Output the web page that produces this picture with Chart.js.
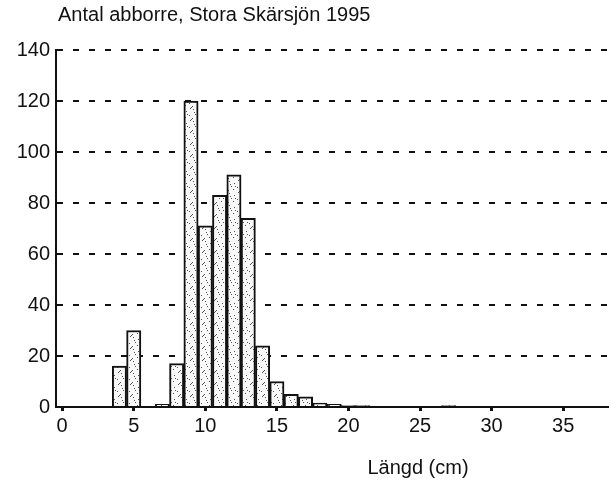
<!DOCTYPE html>
<html>
<head>
<meta charset="utf-8">
<script src="https://cdn.jsdelivr.net/npm/chart.js@4/dist/chart.umd.min.js"></script>
<style>
  html, body { margin: 0; padding: 0; background: #fff; }
  #wrap { width: 609px; height: 481px; position: relative; }
</style>
</head>
<body>
<div id="wrap"><canvas id="perch-chart"></canvas></div>
<script>
// Längd (cm), bins centred on whole centimetres
const lengths = [4, 5, 7, 8, 9, 10, 11, 12, 13, 14, 15, 16, 17, 18, 19, 20, 21, 27];
// Antal abborre per bin
const counts = [16, 30, 1, 17, 120, 71, 83, 91, 74, 24, 10, 5, 4, 1.5, 1, 0.6, 0.6, 0.6];
const xTicks = [0, 5, 10, 15, 20, 25, 30, 35];
const yTicks = [0, 20, 40, 60, 80, 100, 120, 140];

const chartTitle = 'Antal abborre, Stora Skärsjön 1995';
const xTitle = 'Längd (cm)';
const FONT = '"Liberation Sans", Arial, sans-serif';

// scanned-looking stipple fill for the bars
function stipple() {
    const c = document.createElement('canvas');
    c.width = 12;
    c.height = 12;
    const g = c.getContext('2d');
    g.fillStyle = '#f8f8f8';
    g.fillRect(0, 0, 12, 12);
    g.fillStyle = '#555';
    const dots = [[1, 1], [6, 3], [10, 0], [3, 6], [9, 7], [0, 10], [5, 9], [11, 11], [7, 6], [2, 4]];
    dots.forEach(d => g.fillRect(d[0], d[1], 1, 1));
    return g.createPattern(c, 'repeat');
}

const textPlugin = {
    id: 'texts',
    afterDraw(chart) {
        const ctx = chart.ctx;
        ctx.save();
        ctx.fillStyle = '#111';
        ctx.font = '20px ' + FONT;
        ctx.textBaseline = 'alphabetic';
        ctx.textAlign = 'left';
        ctx.fillText(chartTitle, 58, 21);
        ctx.textAlign = 'center';
        ctx.fillText(xTitle, 418, 474);
        ctx.restore();
    }
};

new Chart(document.getElementById('perch-chart'), {
    type: 'bar',
    data: {
        datasets: [{
            data: lengths.map((x, i) => ({ x: x, y: counts[i] })),
            backgroundColor: stipple(),
            borderColor: '#111',
            borderWidth: 2,
            borderSkipped: 'bottom',
            barPercentage: 1,
            categoryPercentage: 1
        }]
    },
    options: {
        responsive: true,
        maintainAspectRatio: false,
        animation: false,
        layout: { padding: { top: 50, right: 0, left: 0, bottom: 0 } },
        plugins: {
            legend: { display: false },
            tooltip: { enabled: false },
            title: { display: false }
        },
        scales: {
            x: {
                type: 'linear',
                offset: false,
                min: -0.43,
                max: 38.2,
                afterBuildTicks: s => { s.ticks = xTicks.map(v => ({ value: v })); },
                afterFit: s => { s.height = 74; },
                ticks: {
                    color: '#111',
                    font: { family: FONT, size: 20 },
                    padding: 3,
                    maxRotation: 0
                },
                grid: {
                    offset: false,
                    drawOnChartArea: false,
                    drawTicks: true,
                    tickLength: 4,
                    tickWidth: 3,
                    tickColor: '#111'
                },
                border: { display: true, color: '#111', width: 2 }
            },
            y: {
                min: 0,
                max: 140,
                afterBuildTicks: s => { s.ticks = yTicks.map(v => ({ value: v })); },
                afterFit: s => { s.width = 56; },
                ticks: {
                    color: '#111',
                    font: { family: FONT, size: 20 },
                    padding: 6
                },
                grid: {
                    drawTicks: false,
                    color: '#111',
                    lineWidth: 2
                },
                border: { display: true, color: '#111', width: 2, dash: [6, 10] }
            }
        }
    },
    plugins: [textPlugin]
});
</script>
</body>
</html>
